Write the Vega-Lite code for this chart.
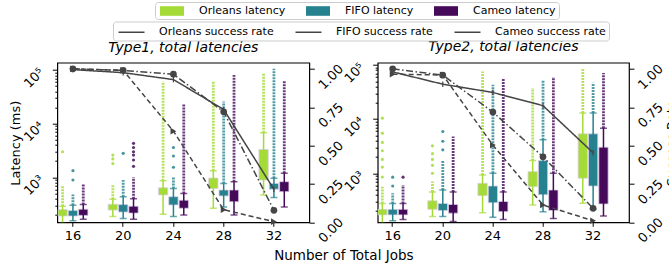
{
  "$schema": "https://vega.github.io/schema/vega-lite/v6.json",
  "autosize": {"type": "none"},
  "padding": {"left": 57.3, "top": 62.7, "right": 611.7, "bottom": 202.3},
  "background": "white",
  "config": {
    "font": "DejaVu Sans",
    "view": {"stroke": "black", "strokeWidth": 1.2},
    "axis": {"grid": false, "domain": false, "tickColor": "black", "labelColor": "black", "titleColor": "black", "labelFont": "DejaVu Sans", "titleFont": "DejaVu Sans", "titleFontWeight": "normal", "labelFontSize": 13, "titleFontSize": 13},
    "legend": {"labelFont": "DejaVu Sans", "labelFontSize": 11, "labelColor": "black", "strokeColor": "#cccccc", "fillColor": "white", "cornerRadius": 3, "padding": 3},
    "title": {"font": "DejaVu Sans", "fontSize": 14, "fontStyle": "italic", "fontWeight": "normal", "color": "black", "offset": 7}
  },
  "datasets": {
    "boxes": [
      {"panel": "T1", "jobs": 16, "algo": "Orleans", "low": 140, "q1": 190, "q3": 250, "high": 290, "outmax": 700},
      {"panel": "T1", "jobs": 16, "algo": "FIFO", "low": 155, "q1": 190, "q3": 240, "high": 300, "outmax": 480},
      {"panel": "T1", "jobs": 16, "algo": "Cameo", "low": 165, "q1": 195, "q3": 255, "high": 310, "outmax": 770},
      {"panel": "T1", "jobs": 20, "algo": "Orleans", "low": 185, "q1": 245, "q3": 315, "high": 390, "outmax": 720},
      {"panel": "T1", "jobs": 20, "algo": "FIFO", "low": 170, "q1": 225, "q3": 310, "high": 435, "outmax": 890},
      {"panel": "T1", "jobs": 20, "algo": "Cameo", "low": 165, "q1": 215, "q3": 290, "high": 400, "outmax": 1000},
      {"panel": "T1", "jobs": 24, "algo": "Orleans", "low": 205, "q1": 470, "q3": 640, "high": 860, "outmax": 61000},
      {"panel": "T1", "jobs": 24, "algo": "FIFO", "low": 185, "q1": 305, "q3": 435, "high": 620, "outmax": 1000},
      {"panel": "T1", "jobs": 24, "algo": "Cameo", "low": 198, "q1": 265, "q3": 375, "high": 500, "outmax": 23900},
      {"panel": "T1", "jobs": 28, "algo": "Orleans", "low": 265, "q1": 620, "q3": 970, "high": 1330, "outmax": 61000},
      {"panel": "T1", "jobs": 28, "algo": "FIFO", "low": 280, "q1": 450, "q3": 580, "high": 770, "outmax": 25800},
      {"panel": "T1", "jobs": 28, "algo": "Cameo", "low": 198, "q1": 350, "q3": 580, "high": 830, "outmax": 81000},
      {"panel": "T1", "jobs": 32, "algo": "Orleans", "low": 470, "q1": 890, "q3": 3300, "high": 6800, "outmax": 85000},
      {"panel": "T1", "jobs": 32, "algo": "FIFO", "low": 420, "q1": 600, "q3": 770, "high": 960, "outmax": 106000},
      {"panel": "T1", "jobs": 32, "algo": "Cameo", "low": 280, "q1": 540, "q3": 830, "high": 1190, "outmax": 63000},
      {"panel": "T2", "jobs": 16, "algo": "Orleans", "low": 120, "q1": 170, "q3": 215, "high": 276, "outmax": 565},
      {"panel": "T2", "jobs": 16, "algo": "FIFO", "low": 133, "q1": 170, "q3": 215, "high": 276, "outmax": 425},
      {"panel": "T2", "jobs": 16, "algo": "Cameo", "low": 140, "q1": 170, "q3": 215, "high": 276, "outmax": 607},
      {"panel": "T2", "jobs": 20, "algo": "Orleans", "low": 158, "q1": 215, "q3": 310, "high": 450, "outmax": 700},
      {"panel": "T2", "jobs": 20, "algo": "FIFO", "low": 158, "q1": 205, "q3": 276, "high": 491, "outmax": 1760},
      {"panel": "T2", "jobs": 20, "algo": "Cameo", "low": 128, "q1": 183, "q3": 265, "high": 450, "outmax": 4750},
      {"panel": "T2", "jobs": 24, "algo": "Orleans", "low": 186, "q1": 385, "q3": 650, "high": 930, "outmax": 76000},
      {"panel": "T2", "jobs": 24, "algo": "FIFO", "low": 153, "q1": 285, "q3": 580, "high": 1000, "outmax": 43000},
      {"panel": "T2", "jobs": 24, "algo": "Cameo", "low": 140, "q1": 195, "q3": 300, "high": 450, "outmax": 55000},
      {"panel": "T2", "jobs": 28, "algo": "Orleans", "low": 259, "q1": 565, "q3": 1070, "high": 1710, "outmax": 37500},
      {"panel": "T2", "jobs": 28, "algo": "FIFO", "low": 195, "q1": 400, "q3": 1710, "high": 4140, "outmax": 52000},
      {"panel": "T2", "jobs": 28, "algo": "Cameo", "low": 146, "q1": 205, "q3": 490, "high": 1000, "outmax": 60000},
      {"panel": "T2", "jobs": 32, "algo": "Orleans", "low": 278, "q1": 810, "q3": 5340, "high": 12900, "outmax": 86000},
      {"panel": "T2", "jobs": 32, "algo": "FIFO", "low": 215, "q1": 580, "q3": 5340, "high": 12900, "outmax": 47000},
      {"panel": "T2", "jobs": 32, "algo": "Cameo", "low": 162, "q1": 270, "q3": 3030, "high": 6800, "outmax": 71000}
    ],
    "sparse": [
      {"panel": "T1", "jobs": 16, "algo": "Orleans", "v": 3000},
      {"panel": "T1", "jobs": 16, "algo": "FIFO", "v": 890},
      {"panel": "T1", "jobs": 16, "algo": "FIFO", "v": 1330},
      {"panel": "T1", "jobs": 20, "algo": "Orleans", "v": 1800},
      {"panel": "T1", "jobs": 20, "algo": "Orleans", "v": 2200},
      {"panel": "T1", "jobs": 20, "algo": "Orleans", "v": 2600},
      {"panel": "T1", "jobs": 20, "algo": "FIFO", "v": 2800},
      {"panel": "T1", "jobs": 20, "algo": "Cameo", "v": 1600},
      {"panel": "T1", "jobs": 20, "algo": "Cameo", "v": 2100},
      {"panel": "T1", "jobs": 20, "algo": "Cameo", "v": 2600},
      {"panel": "T1", "jobs": 20, "algo": "Cameo", "v": 3000},
      {"panel": "T1", "jobs": 20, "algo": "Cameo", "v": 3600},
      {"panel": "T1", "jobs": 20, "algo": "Cameo", "v": 4300},
      {"panel": "T1", "jobs": 24, "algo": "FIFO", "v": 1540},
      {"panel": "T1", "jobs": 24, "algo": "FIFO", "v": 2500},
      {"panel": "T1", "jobs": 24, "algo": "FIFO", "v": 3600},
      {"panel": "T2", "jobs": 16, "algo": "Orleans", "v": 850},
      {"panel": "T2", "jobs": 16, "algo": "Orleans", "v": 1300},
      {"panel": "T2", "jobs": 16, "algo": "Orleans", "v": 1800},
      {"panel": "T2", "jobs": 16, "algo": "Orleans", "v": 2600},
      {"panel": "T2", "jobs": 16, "algo": "Orleans", "v": 3700},
      {"panel": "T2", "jobs": 16, "algo": "Orleans", "v": 5500},
      {"panel": "T2", "jobs": 16, "algo": "Orleans", "v": 10400},
      {"panel": "T2", "jobs": 16, "algo": "FIFO", "v": 580},
      {"panel": "T2", "jobs": 16, "algo": "FIFO", "v": 845},
      {"panel": "T2", "jobs": 16, "algo": "Cameo", "v": 845},
      {"panel": "T2", "jobs": 20, "algo": "Orleans", "v": 1000},
      {"panel": "T2", "jobs": 20, "algo": "Orleans", "v": 1400},
      {"panel": "T2", "jobs": 20, "algo": "Orleans", "v": 1800},
      {"panel": "T2", "jobs": 20, "algo": "Orleans", "v": 2300},
      {"panel": "T2", "jobs": 20, "algo": "Orleans", "v": 3200},
      {"panel": "T2", "jobs": 20, "algo": "FIFO", "v": 2700},
      {"panel": "T2", "jobs": 20, "algo": "FIFO", "v": 3900},
      {"panel": "T2", "jobs": 20, "algo": "FIFO", "v": 5900}
    ],
    "rates": [
      {"panel": "T1", "jobs": 16, "series": "Orleans success rate", "rate": 1.0},
      {"panel": "T1", "jobs": 20, "series": "Orleans success rate", "rate": 0.99},
      {"panel": "T1", "jobs": 24, "series": "Orleans success rate", "rate": 0.594},
      {"panel": "T1", "jobs": 28, "series": "Orleans success rate", "rate": 0.082},
      {"panel": "T1", "jobs": 32, "series": "Orleans success rate", "rate": 0.004},
      {"panel": "T1", "jobs": 16, "series": "FIFO success rate", "rate": 1.0},
      {"panel": "T1", "jobs": 20, "series": "FIFO success rate", "rate": 0.99},
      {"panel": "T1", "jobs": 24, "series": "FIFO success rate", "rate": 0.965},
      {"panel": "T1", "jobs": 28, "series": "FIFO success rate", "rate": 0.72},
      {"panel": "T1", "jobs": 32, "series": "FIFO success rate", "rate": 0.078},
      {"panel": "T1", "jobs": 16, "series": "Cameo success rate", "rate": 0.995},
      {"panel": "T1", "jobs": 20, "series": "Cameo success rate", "rate": 0.975},
      {"panel": "T1", "jobs": 24, "series": "Cameo success rate", "rate": 0.93},
      {"panel": "T1", "jobs": 28, "series": "Cameo success rate", "rate": 0.735},
      {"panel": "T1", "jobs": 32, "series": "Cameo success rate", "rate": 0.215},
      {"panel": "T2", "jobs": 16, "series": "Orleans success rate", "rate": 0.965},
      {"panel": "T2", "jobs": 20, "series": "Orleans success rate", "rate": 0.96},
      {"panel": "T2", "jobs": 24, "series": "Orleans success rate", "rate": 0.503},
      {"panel": "T2", "jobs": 28, "series": "Orleans success rate", "rate": 0.113},
      {"panel": "T2", "jobs": 32, "series": "Orleans success rate", "rate": 0.01},
      {"panel": "T2", "jobs": 16, "series": "FIFO success rate", "rate": 1.0},
      {"panel": "T2", "jobs": 20, "series": "FIFO success rate", "rate": 0.959},
      {"panel": "T2", "jobs": 24, "series": "FIFO success rate", "rate": 0.718},
      {"panel": "T2", "jobs": 28, "series": "FIFO success rate", "rate": 0.427},
      {"panel": "T2", "jobs": 32, "series": "FIFO success rate", "rate": 0.091},
      {"panel": "T2", "jobs": 16, "series": "Cameo success rate", "rate": 0.98},
      {"panel": "T2", "jobs": 20, "series": "Cameo success rate", "rate": 0.9},
      {"panel": "T2", "jobs": 24, "series": "Cameo success rate", "rate": 0.846},
      {"panel": "T2", "jobs": 28, "series": "Cameo success rate", "rate": 0.76},
      {"panel": "T2", "jobs": 32, "series": "Cameo success rate", "rate": 0.453}
    ]
  },
  "spacing": 68.4,
  "bounds": "flush",
  "resolve": {"scale": {"x": "independent", "y": "independent", "color": "shared", "stroke": "shared", "strokeDash": "shared"}},
  "hconcat": [
    {
      "width": 252,
      "height": 159.6,
      "title": {"text": "Type1, total latencies"},
      "encoding": {
        "x": {"field": "jobs", "type": "ordinal", "scale": {"type": "band", "domain": [16, 20, 24, 28, 32], "paddingInner": 0.403, "paddingOuter": 0.209, "align": 0.03},
          "axis": {"labelAngle": 0, "tickSize": 4, "labelPadding": 3, "title": "Number of Total Jobs", "titleX": 286, "titleY": 33, "titleAlign": "center", "titleBaseline": "middle", "titleFontSize": 13.5}}
      },
      "layer": [
        {
          "layer": [
            {
              "data": {"name": "boxes"}, "transform": [{"filter": "datum.panel === 'T1'"}],
              "mark": {"type": "bar", "stroke": "#dccfe8", "strokeWidth": 0.8, "opacity": 1, "clip": true},
              "encoding": {
                "xOffset": {"field": "algo", "type": "nominal", "scale": {"domain": ["Orleans", "FIFO", "Cameo"], "paddingInner": 0.1, "paddingOuter": 0}},
                "y": {"field": "q1", "type": "quantitative", "title": "Latency (ms)", "scale": {"type": "log", "domain": [145, 137000], "nice": false},
                  "axis": {"orient": "left", "values": [200, 300, 400, 500, 600, 700, 800, 900, 1000, 2000, 3000, 4000, 5000, 6000, 7000, 8000, 9000, 10000, 20000, 30000, 40000, 50000, 60000, 70000, 80000, 90000, 100000],
                    "labelExpr": "datum.value == 1000 ? '10³' : datum.value == 10000 ? '10⁴' : datum.value == 100000 ? '10⁵' : ''",
                    "labelAngle": -45, "labelAlign": "right", "labelBaseline": "middle", "labelPadding": 11, "labelOffset": 0, "labelOverlap": false, "labelBound": false,
                    "tickSize": {"condition": {"test": "datum.value == 1000 || datum.value == 10000 || datum.value == 100000", "value": 5}, "value": 2.5},
                    "title": "Latency (ms)", "titleX": -42, "titleY": 80, "titleAngle": 270, "titleAlign": "center", "titleBaseline": "middle"}},
                "y2": {"field": "q3"},
                "color": {"field": "algo", "type": "nominal", "scale": {"domain": ["Orleans", "FIFO", "Cameo"], "range": ["#a5db36", "#26828e", "#450a59"]},
                  "legend": {"orient": "none", "legendX": 97.7, "legendY": -60.7, "direction": "horizontal", "title": null, "labelExpr": "datum.label + ' latency'",
                    "symbolType": "M-2,-0.8H2V0.8H-2Z", "symbolSize": 144, "symbolOffset": 8, "symbolStrokeWidth": 0, "symbolOpacity": 1, "labelOffset": 21, "columnPadding": 18}}
              }
            },
            {
              "data": {"name": "boxes"}, "transform": [{"filter": "datum.panel === 'T1'"}],
              "mark": {"type": "rule", "strokeDash": [2, 1], "strokeWidth": 2.8, "opacity": 0.8, "clip": true},
              "encoding": {
                "xOffset": {"field": "algo", "type": "nominal"},
                "y": {"field": "high", "type": "quantitative", "title": "Latency (ms)", "scale": {"type": "log", "domain": [145, 137000], "nice": false}},
                "y2": {"field": "outmax"},
                "color": {"field": "algo", "type": "nominal"}
              }
            },
            {
              "data": {"name": "boxes"}, "transform": [{"filter": "datum.panel === 'T1'"}],
              "mark": {"type": "rule", "strokeWidth": 1.5, "clip": true},
              "encoding": {
                "xOffset": {"field": "algo", "type": "nominal"},
                "y": {"field": "low", "type": "quantitative", "title": "Latency (ms)", "scale": {"type": "log", "domain": [145, 137000], "nice": false}},
                "y2": {"field": "high"},
                "color": {"field": "algo", "type": "nominal"}
              }
            },
            {
              "data": {"name": "boxes"}, "transform": [{"filter": "datum.panel === 'T1'"}],
              "mark": {"type": "tick", "size": 7, "thickness": 1.5, "clip": true},
              "encoding": {
                "xOffset": {"field": "algo", "type": "nominal"},
                "y": {"field": "low", "type": "quantitative", "title": "Latency (ms)", "scale": {"type": "log", "domain": [145, 137000], "nice": false}},
                "color": {"field": "algo", "type": "nominal"}
              }
            },
            {
              "data": {"name": "boxes"}, "transform": [{"filter": "datum.panel === 'T1'"}],
              "mark": {"type": "tick", "size": 7, "thickness": 1.5, "clip": true},
              "encoding": {
                "xOffset": {"field": "algo", "type": "nominal"},
                "y": {"field": "high", "type": "quantitative", "title": "Latency (ms)", "scale": {"type": "log", "domain": [145, 137000], "nice": false}},
                "color": {"field": "algo", "type": "nominal"}
              }
            },
            {
              "data": {"name": "sparse"}, "transform": [{"filter": "datum.panel === 'T1'"}],
              "mark": {"type": "point", "filled": true, "size": 10, "opacity": 0.85, "clip": true},
              "encoding": {
                "xOffset": {"field": "algo", "type": "nominal"},
                "y": {"field": "v", "type": "quantitative", "title": "Latency (ms)", "scale": {"type": "log", "domain": [145, 137000], "nice": false}},
                "color": {"field": "algo", "type": "nominal"}
              }
            }
          ]
        },
        {
          "data": {"name": "rates"}, "transform": [{"filter": "datum.panel === 'T1'"}],
          "encoding": {
            "y": {"field": "rate", "type": "quantitative", "title": null, "scale": {"domain": [0, 1.04], "nice": false, "zero": false},
              "axis": {"orient": "right", "values": [0, 0.25, 0.5, 0.75, 1], "format": ".2f", "labelAngle": -45, "labelAlign": "left", "labelBaseline": "middle", "labelPadding": 6, "labelOffset": 18, "labelBound": false, "labelOverlap": false, "labelSeparation": -100, "tickSize": 5, "title": null}}
          },
          "layer": [
            {
              "mark": {"type": "line", "color": "#454545", "strokeWidth": 1.5},
              "encoding": {
                "strokeDash": {"field": "series", "type": "nominal", "scale": {"domain": ["Orleans success rate", "FIFO success rate", "Cameo success rate", "unused"], "range": [[5, 3], [7, 2.5, 1.5, 2.5], [1, 0], [1, 0]]}, "legend": null}
              }
            },
            {
              "transform": [{"filter": "datum.series === 'Orleans success rate'"}],
              "mark": {"type": "point", "filled": true, "shape": "triangle-right", "color": "#454545", "opacity": 1, "size": 45}
            },
            {
              "transform": [{"filter": "datum.series === 'FIFO success rate'"}],
              "mark": {"type": "point", "filled": true, "shape": "circle", "color": "#454545", "opacity": 1, "size": 45}
            },
            {
              "transform": [{"filter": "datum.series === 'Cameo success rate'"}],
              "mark": {"type": "point", "filled": false, "shape": "M0,-1V1", "color": "#454545", "strokeWidth": 1.2, "opacity": 1, "size": 30}
            },
            {
              "transform": [{"filter": "datum.rate > 5"}],
              "mark": {"type": "point", "filled": true, "color": "#454545", "strokeWidth": 1.5, "opacity": 1, "size": 169},
              "encoding": {
                "stroke": {"field": "series", "type": "nominal",
                  "scale": {"domain": ["Orleans success rate", "FIFO success rate", "Cameo success rate"], "range": ["#454545", "#454545", "#454545"]},
                  "legend": {"orient": "none", "legendX": 55.7, "legendY": -41.2, "direction": "horizontal", "title": null,
                    "symbolType": "M-2,0H2", "symbolSize": 169, "symbolOffset": 8, "symbolStrokeWidth": 1.5, "symbolFillColor": "#454545", "symbolOpacity": 1,
                    "labelOffset": 20, "columnPadding": 18,
                    "encode": {"symbols": {
                      "shape": {"value": {"expr": "datum.value === 'Orleans success rate' ? 'M-2,0H-1M1,0H2M-0.7,-0.6L0.7,0L-0.7,0.6Z' : datum.value === 'FIFO success rate' ? 'M-2,0H-0.4M0.4,0A0.4,0.4,0,1,1,-0.4,0A0.4,0.4,0,1,1,0.4,0ZM0.9,0H1.8' : 'M-2,0H2M0,-0.3V0.3'"}},
                      "fill": {"value": "#454545"},
                      "strokeWidth": {"value": 1.5},
                      "opacity": {"value": 1}}}}}
              }
            }
          ]
        }
      ],
      "resolve": {"scale": {"y": "independent"}}
    },
    {
      "width": 251.3,
      "height": 159.6,
      "title": {"text": "Type2, total latencies"},
      "encoding": {
        "x": {"field": "jobs", "type": "ordinal", "scale": {"type": "band", "domain": [16, 20, 24, 28, 32], "paddingInner": 0.403, "paddingOuter": 0.209, "align": 0.0},
          "axis": {"labelAngle": 0, "tickSize": 4, "labelPadding": 3, "title": null}}
      },
      "layer": [
        {
          "layer": [
            {
              "data": {"name": "boxes"}, "transform": [{"filter": "datum.panel === 'T2'"}],
              "mark": {"type": "bar", "stroke": "#dccfe8", "strokeWidth": 0.8, "opacity": 1, "clip": true},
              "encoding": {
                "xOffset": {"field": "algo", "type": "nominal", "scale": {"domain": ["Orleans", "FIFO", "Cameo"], "paddingInner": 0.1, "paddingOuter": 0}},
                "y": {"field": "q1", "type": "quantitative", "title": null, "scale": {"type": "log", "domain": [124, 110000], "nice": false},
                  "axis": {"orient": "left", "values": [200, 300, 400, 500, 600, 700, 800, 900, 1000, 2000, 3000, 4000, 5000, 6000, 7000, 8000, 9000, 10000, 20000, 30000, 40000, 50000, 60000, 70000, 80000, 90000, 100000],
                    "labelExpr": "datum.value == 1000 ? '10³' : datum.value == 10000 ? '10⁴' : datum.value == 100000 ? '10⁵' : ''",
                    "labelAngle": -45, "labelAlign": "right", "labelBaseline": "middle", "labelPadding": 11, "labelOffset": 0, "labelOverlap": false, "labelBound": false,
                    "tickSize": {"condition": {"test": "datum.value == 1000 || datum.value == 10000 || datum.value == 100000", "value": 5}, "value": 2.5},
                    "title": null}},
                "y2": {"field": "q3"},
                "color": {"field": "algo", "type": "nominal"}
              }
            },
            {
              "data": {"name": "boxes"}, "transform": [{"filter": "datum.panel === 'T2'"}],
              "mark": {"type": "rule", "strokeDash": [2, 1], "strokeWidth": 2.8, "opacity": 0.8, "clip": true},
              "encoding": {
                "xOffset": {"field": "algo", "type": "nominal"},
                "y": {"field": "high", "type": "quantitative", "title": null, "scale": {"type": "log", "domain": [124, 110000], "nice": false}},
                "y2": {"field": "outmax"},
                "color": {"field": "algo", "type": "nominal"}
              }
            },
            {
              "data": {"name": "boxes"}, "transform": [{"filter": "datum.panel === 'T2'"}],
              "mark": {"type": "rule", "strokeWidth": 1.5, "clip": true},
              "encoding": {
                "xOffset": {"field": "algo", "type": "nominal"},
                "y": {"field": "low", "type": "quantitative", "title": null, "scale": {"type": "log", "domain": [124, 110000], "nice": false}},
                "y2": {"field": "high"},
                "color": {"field": "algo", "type": "nominal"}
              }
            },
            {
              "data": {"name": "boxes"}, "transform": [{"filter": "datum.panel === 'T2'"}],
              "mark": {"type": "tick", "size": 7, "thickness": 1.5, "clip": true},
              "encoding": {
                "xOffset": {"field": "algo", "type": "nominal"},
                "y": {"field": "low", "type": "quantitative", "title": null, "scale": {"type": "log", "domain": [124, 110000], "nice": false}},
                "color": {"field": "algo", "type": "nominal"}
              }
            },
            {
              "data": {"name": "boxes"}, "transform": [{"filter": "datum.panel === 'T2'"}],
              "mark": {"type": "tick", "size": 7, "thickness": 1.5, "clip": true},
              "encoding": {
                "xOffset": {"field": "algo", "type": "nominal"},
                "y": {"field": "high", "type": "quantitative", "title": null, "scale": {"type": "log", "domain": [124, 110000], "nice": false}},
                "color": {"field": "algo", "type": "nominal"}
              }
            },
            {
              "data": {"name": "sparse"}, "transform": [{"filter": "datum.panel === 'T2'"}],
              "mark": {"type": "point", "filled": true, "size": 10, "opacity": 0.85, "clip": true},
              "encoding": {
                "xOffset": {"field": "algo", "type": "nominal"},
                "y": {"field": "v", "type": "quantitative", "title": null, "scale": {"type": "log", "domain": [124, 110000], "nice": false}},
                "color": {"field": "algo", "type": "nominal"}
              }
            }
          ]
        },
        {
          "data": {"name": "rates"}, "transform": [{"filter": "datum.panel === 'T2'"}],
          "encoding": {
            "y": {"field": "rate", "type": "quantitative", "title": "Success Rate", "scale": {"domain": [0, 1.04], "nice": false, "zero": false},
              "axis": {"orient": "right", "values": [0, 0.25, 0.5, 0.75, 1], "format": ".2f", "labelAngle": -45, "labelAlign": "left", "labelBaseline": "middle", "labelPadding": 6, "labelOffset": 18, "labelBound": false, "labelOverlap": false, "labelSeparation": -100, "tickSize": 5,
                "title": "Success Rate", "titleX": 43, "titleY": 80, "titleAngle": 270, "titleAlign": "center", "titleBaseline": "middle"}}
          },
          "layer": [
            {
              "mark": {"type": "line", "color": "#454545", "strokeWidth": 1.5},
              "encoding": {
                "strokeDash": {"field": "series", "type": "nominal", "legend": null}
              }
            },
            {
              "transform": [{"filter": "datum.series === 'Orleans success rate'"}],
              "mark": {"type": "point", "filled": true, "shape": "triangle-right", "color": "#454545", "opacity": 1, "size": 45}
            },
            {
              "transform": [{"filter": "datum.series === 'FIFO success rate'"}],
              "mark": {"type": "point", "filled": true, "shape": "circle", "color": "#454545", "opacity": 1, "size": 45}
            },
            {
              "transform": [{"filter": "datum.series === 'Cameo success rate'"}],
              "mark": {"type": "point", "filled": false, "shape": "M0,-1V1", "color": "#454545", "strokeWidth": 1.2, "opacity": 1, "size": 30}
            }
          ]
        }
      ],
      "resolve": {"scale": {"y": "independent"}}
    }
  ]
}
